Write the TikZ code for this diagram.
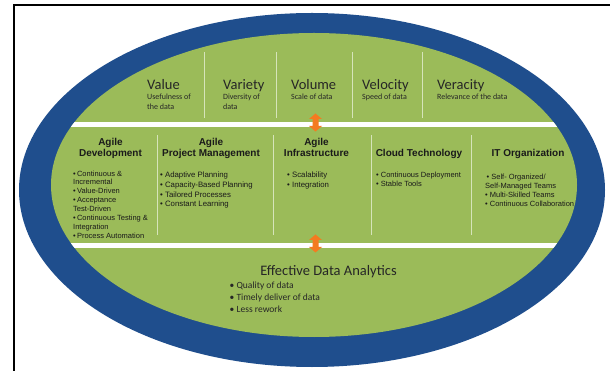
\documentclass[tikz,border=0pt]{standalone}
\usepackage{fontspec}
\setmainfont{Carlito}
\newfontfamily\arialfont{Liberation Sans}
\definecolor{ringblue}{HTML}{1F4E8D}
\definecolor{leafgreen}{HTML}{9BBB59}
\definecolor{arroworange}{HTML}{F47B20}
\definecolor{rulegreen}{HTML}{D6E4BA}
\definecolor{inkgray}{HTML}{262626}
\definecolor{inkdark}{HTML}{1A1A1A}
\begin{document}
\begin{tikzpicture}[x=1pt,y=-1pt,
  toptitle/.style={anchor=base west,inner sep=0pt,text=inkgray,font=\fontsize{14.5}{16}\selectfont},
  topsub/.style={anchor=north west,inner sep=0pt,align=left,text=inkgray,font=\fontsize{8}{9.5}\selectfont},
  midhead/.style={anchor=north,inner sep=0pt,align=center,text=inkdark,font=\arialfont\bfseries\fontsize{10}{11}\selectfont},
  midlist/.style={anchor=north west,inner sep=0pt,align=left,text=inkdark,font=\arialfont\fontsize{7.5}{#1}\selectfont},
  midlist/.default=9,
  widelist/.style={midlist=#1,font=\arialfont\fontsize{7.8}{#1}\selectfont},
  divider/.style={draw=rulegreen,line width=0.8pt},
  whitebar/.style={fill=white},
  twinarrow/.style={fill=arroworange}]
\useasboundingbox (0,0) rectangle (610,371);
\fill[white] (0,0) rectangle (610,371);
% frame lines
\draw[black,line width=1.7pt] (14,371) -- (14,5) -- (610,5);

% rings
\fill[ringblue] (312,190) ellipse [x radius=293, y radius=177];
\fill[leafgreen] (314,185) ellipse [x radius=263, y radius=152];

% white separators, clipped to the green field
\begin{scope}
  \clip (314,185) ellipse [x radius=263, y radius=152];
  \fill[whitebar] (0,122) rectangle (610,127);
  \fill[whitebar] (0,243) rectangle (610,248);
\end{scope}

% column rules, top row
\foreach \xx in {204,276,352,422}
  \draw[divider] (\xx,52) -- (\xx,118);
% column rules, middle row
\foreach \xx in {157,273,371,471}
  \draw[divider] (\xx,135) -- (\xx,235);

% orange double arrows
\coordinate (arrA) at (315.5,122.5);
\coordinate (arrB) at (315.5,243.5);
\foreach \cc in {arrA,arrB}
  \fill[twinarrow] ([shift={(0,-9)}]\cc) -- ++(6.5,5.5) -- ++(-3.5,0) -- ++(0,7) -- ++(3.5,0)
     -- ++(-6.5,5.5) -- ++(-6.5,-5.5) -- ++(3.5,0) -- ++(0,-7) -- ++(-3.5,0) -- cycle;

% top row: the five V's
\node[toptitle] (value) at (147,90) {Value};
\node[topsub] (valueS) at (147,94) {Usefulness of\\the data};
\node[toptitle] (variety) at (223,90) {Variety};
\node[topsub] (varietyS) at (223,94) {Diversity of\\data};
\node[toptitle] (volume) at (291,90) {Volume};
\node[topsub] (volumeS) at (291,94) {Scale of data};
\node[toptitle] (velocity) at (362,90) {Velocity};
\node[topsub] (velocityS) at (362,94) {Speed of data};
\node[toptitle] (veracity) at (437,90) {Veracity};
\node[topsub] (veracityS) at (437,94) {Relevance of the data};

% middle row: practices
\node[midhead] (agileDev) at (110.5,138.3) {Agile\\Development};
\node[midlist=8.86] (agileDevL) at (73,170.5) {•\,Continuous \&\\Incremental\\•\,Value-Driven\\•\,Acceptance\\Test-Driven\\•\,Continuous Testing \&\\Integration\\•\,Process Automation};

\node[midhead] (agilePM) at (211,138.3) {Agile\\Project Management};
\node[widelist=9.6] (agilePML) at (160,172) {• Adaptive Planning\\• Capacity-Based Planning\\• Tailored Processes\\• Constant Learning};

\node[midhead] (agileInf) at (316.5,138.3) {Agile\\Infrastructure};
\node[widelist=9.3] (agileInfL) at (287,172) {• Scalability\\• Integration};

\node[midhead] (cloud) at (419,149.3) {Cloud Technology};
\node[midlist=9] (cloudL) at (376,171.5) {• Continuous Deployment\\• Stable Tools};

\node[midhead] (itOrg) at (528,149.3) {IT Organization};
\node[midlist=9] (itOrgL) at (485,174) {\hspace{1.5pt}• Self- Organized/\\Self-Managed Teams\\• Multi-Skilled Teams\\• Continuous Collaboration};

% bottom: outcome
\node[anchor=base,inner sep=0pt,text=inkgray,font=\fontsize{14.5}{16}\selectfont] (eda) at (328.5,276) {Effective Data Analytics};
\node[anchor=north west,inner sep=0pt,align=left,text=inkgray,font=\fontsize{9.5}{12}\selectfont] (edaL) at (229.5,281.5) {• Quality of data\\• Timely deliver of data\\• Less rework};
\end{tikzpicture}
\end{document}
